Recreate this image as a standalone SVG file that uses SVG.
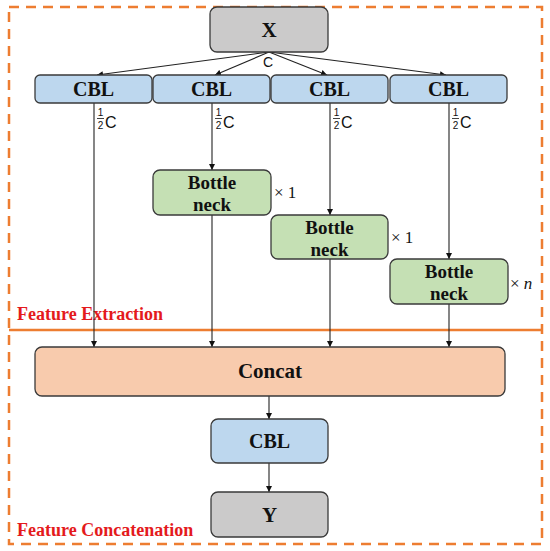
<svg xmlns="http://www.w3.org/2000/svg" width="550" height="551" viewBox="0 0 550 551">
<defs>
<marker id="ah" viewBox="0 0 10 10" refX="10" refY="5" markerWidth="6" markerHeight="6" markerUnits="userSpaceOnUse" orient="auto">
<path d="M0,0 L10,5 L0,10 z" fill="#111"/>
</marker>
<style>
.box{stroke:#3a3a3a;stroke-width:1.3}
.gray{fill:#cbcaca}
.blue{fill:#bdd7ee}
.green{fill:#c5e0b4}
.peach{fill:#f8cbad}
.t{font-family:"Liberation Serif",serif;font-weight:bold;fill:#111;text-anchor:middle}
.lbl{font-family:"Liberation Serif",serif;font-weight:bold;fill:#e41a1c;font-size:18px}
.s{font-family:"Liberation Sans",sans-serif;fill:#111}
.m{font-family:"Liberation Serif",serif;fill:#111;font-size:17px}
.c{stroke:#222;stroke-width:1.1;fill:none;marker-end:url(#ah)}
</style>
</defs>
<rect width="550" height="551" fill="#fff"/>
<g id="frame">
<rect x="9" y="7" width="533" height="537" fill="none" stroke="#ed7d31" stroke-width="2.5" stroke-dasharray="10,7"/>
<line x1="9" y1="330" x2="542" y2="330" stroke="#ed7d31" stroke-width="2.5"/>
<text class="lbl" x="17" y="320">Feature Extraction</text>
<text class="lbl" x="17" y="536">Feature Concatenation</text>
</g>
<g id="connectors">
<line class="c" x1="269" y1="52" x2="97" y2="75"/>
<line class="c" x1="269" y1="52" x2="215" y2="75"/>
<line class="c" x1="269" y1="52" x2="327" y2="75"/>
<line class="c" x1="269" y1="52" x2="446" y2="75"/>
<line class="c" x1="94" y1="103" x2="94" y2="347"/>
<line class="c" x1="212" y1="103" x2="212" y2="170"/>
<line class="c" x1="212" y1="215" x2="212" y2="347"/>
<line class="c" x1="330" y1="103" x2="330" y2="215"/>
<line class="c" x1="330" y1="259" x2="330" y2="347"/>
<line class="c" x1="449" y1="103" x2="449" y2="259"/>
<line class="c" x1="449" y1="304" x2="449" y2="347"/>
<line class="c" x1="269" y1="396" x2="269" y2="419"/>
<line class="c" x1="269" y1="463" x2="269" y2="492"/>
<text class="s" x="263" y="67" font-size="14">C</text>
<g id="fracs" class="s">
<g transform="translate(94,0)">
<text x="6.5" y="116" font-size="10" text-anchor="middle">1</text>
<line x1="3" y1="118.5" x2="10" y2="118.5" stroke="#111" stroke-width="0.8"/>
<text x="6.5" y="129" font-size="10" text-anchor="middle">2</text>
<text x="11" y="128" font-size="16">C</text>
</g>
<g transform="translate(212,0)">
<text x="6.5" y="116" font-size="10" text-anchor="middle">1</text>
<line x1="3" y1="118.5" x2="10" y2="118.5" stroke="#111" stroke-width="0.8"/>
<text x="6.5" y="129" font-size="10" text-anchor="middle">2</text>
<text x="11" y="128" font-size="16">C</text>
</g>
<g transform="translate(330,0)">
<text x="6.5" y="116" font-size="10" text-anchor="middle">1</text>
<line x1="3" y1="118.5" x2="10" y2="118.5" stroke="#111" stroke-width="0.8"/>
<text x="6.5" y="129" font-size="10" text-anchor="middle">2</text>
<text x="11" y="128" font-size="16">C</text>
</g>
<g transform="translate(449,0)">
<text x="6.5" y="116" font-size="10" text-anchor="middle">1</text>
<line x1="3" y1="118.5" x2="10" y2="118.5" stroke="#111" stroke-width="0.8"/>
<text x="6.5" y="129" font-size="10" text-anchor="middle">2</text>
<text x="11" y="128" font-size="16">C</text>
</g>
</g>
<text class="m" x="274" y="198">× 1</text>
<text class="m" x="391" y="243">× 1</text>
<text class="m" x="510" y="289">× <tspan font-style="italic">n</tspan></text>
</g>
<g id="X">
<rect class="box gray" x="210" y="7" width="118" height="45" rx="7"/>
<text class="t" x="269" y="37" font-size="21">X</text>
</g>
<g id="CBL1"><rect class="box blue" x="35" y="75" width="117" height="28" rx="5"/><text class="t" x="93.5" y="96" font-size="20">CBL</text></g>
<g id="CBL2"><rect class="box blue" x="153" y="75" width="117" height="28" rx="5"/><text class="t" x="211.5" y="96" font-size="20">CBL</text></g>
<g id="CBL3"><rect class="box blue" x="271" y="75" width="117" height="28" rx="5"/><text class="t" x="329.5" y="96" font-size="20">CBL</text></g>
<g id="CBL4"><rect class="box blue" x="390" y="75" width="117" height="28" rx="5"/><text class="t" x="448.5" y="96" font-size="20">CBL</text></g>
<g id="BN1"><rect class="box green" x="153" y="170" width="118" height="45" rx="7"/><text class="t" x="212" y="189" font-size="19">Bottle</text><text class="t" x="212" y="211" font-size="19">neck</text></g>
<g id="BN2"><rect class="box green" x="271" y="215" width="117" height="44" rx="7"/><text class="t" x="329.5" y="234" font-size="19">Bottle</text><text class="t" x="329.5" y="256" font-size="19">neck</text></g>
<g id="BN3"><rect class="box green" x="390" y="259" width="118" height="45" rx="7"/><text class="t" x="449" y="278" font-size="19">Bottle</text><text class="t" x="449" y="300" font-size="19">neck</text></g>
<g id="Concat"><rect class="box peach" x="35" y="347" width="470" height="49" rx="7"/><text class="t" x="270" y="378" font-size="21">Concat</text></g>
<g id="CBL5"><rect class="box blue" x="211" y="419" width="117" height="44" rx="7"/><text class="t" x="269.5" y="448" font-size="20">CBL</text></g>
<g id="Y"><rect class="box gray" x="211" y="492" width="117" height="45" rx="7"/><text class="t" x="269.5" y="522" font-size="21">Y</text></g>
</svg>
